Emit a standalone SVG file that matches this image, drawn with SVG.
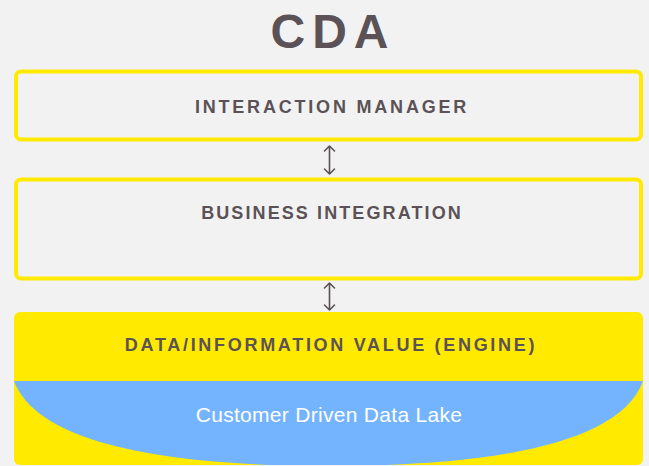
<svg xmlns="http://www.w3.org/2000/svg" width="649" height="466" viewBox="0 0 649 466">
  <defs>
    <style>
      .frame { fill: none; stroke: #ffea00; stroke-width: 4; }
      .label { font-family: "Liberation Sans", Arial, sans-serif; font-weight: bold; fill: #5b5257; text-anchor: middle; font-size: 18px; }
      .conn { stroke: #5b5257; stroke-width: 1.6; fill: none; stroke-linecap: round; stroke-linejoin: round; }
    </style>
    <clipPath id="engineClip">
      <rect x="14" y="312" width="629" height="153" rx="6"/>
    </clipPath>
  </defs>

  <rect width="649" height="466" fill="#f2f2f2"/>

  <text class="label" x="333" y="48" style="font-size:48px" letter-spacing="7">CDA</text>

  <g id="interaction-manager">
    <rect class="frame" x="16" y="71.5" width="625" height="68" rx="5"/>
    <text class="label" x="332" y="113" letter-spacing="2.8">INTERACTION MANAGER</text>
  </g>

  <g id="business-integration">
    <rect class="frame" x="16" y="179.5" width="625" height="99" rx="5"/>
    <text class="label" x="332" y="219" letter-spacing="2.1">BUSINESS INTEGRATION</text>
  </g>

  <g id="data-engine">
    <rect x="14" y="312" width="629" height="153" rx="6" fill="#ffea00"/>
    <path d="M14,381 C40,450 190,466 329,466 C468,466 618,450 643,381 Z" fill="#74b4ff" clip-path="url(#engineClip)"/>
    <text class="label" x="331" y="351" letter-spacing="2.7">DATA/INFORMATION VALUE (ENGINE)</text>
    <text x="329" y="422" font-family="'Liberation Sans', Arial, sans-serif" font-size="21" letter-spacing="0.3" fill="#ffffff" text-anchor="middle">Customer Driven Data Lake</text>
  </g>

  <g id="connectors">
    <path class="conn" d="M329.5,146 V174 M324.5,151 L329.5,146 L334.5,151 M324.5,169 L329.5,174 L334.5,169"/>
    <path class="conn" d="M329.5,283 V310 M324.5,288 L329.5,283 L334.5,288 M324.5,305 L329.5,310 L334.5,305"/>
  </g>
</svg>
